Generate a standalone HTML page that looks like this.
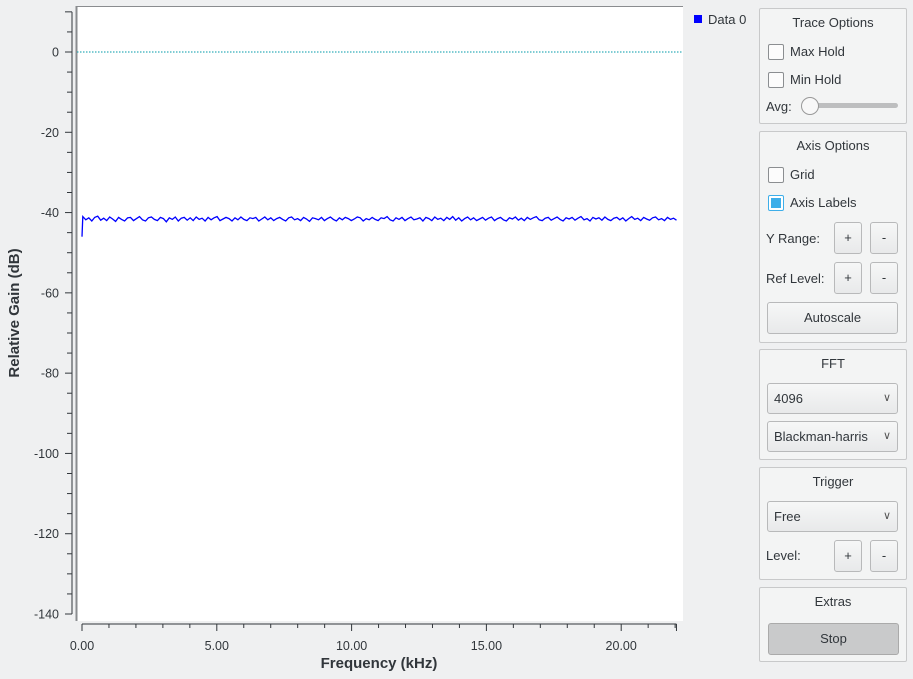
<!DOCTYPE html>
<html><head><meta charset="utf-8">
<style>
body{margin:0;width:913px;height:679px;background:#eff0f1;font-family:"Liberation Sans","DejaVu Sans",sans-serif;overflow:hidden;position:relative;color:#31363b}
.grp{position:absolute;left:759px;width:146px;border:1px solid #c8c9ca;border-radius:2px;background:#f3f4f4}
.t{position:absolute;width:100%;text-align:center;font-size:13px}
.lbl{position:absolute;font-size:13px}
.cb{position:absolute;width:14px;height:14px;border:1px solid #8b8e91;border-radius:2px;background:#fcfcfc}
.btn{position:absolute;border:1px solid #b8b9ba;border-radius:3px;background:linear-gradient(#f6f7f7,#e8e9ea);font-size:13px;text-align:center;box-sizing:border-box}
.cmb{position:absolute;left:7px;width:131px;height:31px;border:1px solid #b8b9ba;border-radius:3px;background:linear-gradient(#f6f7f7,#e8e9ea);font-size:13px;box-sizing:border-box;line-height:29px;padding-left:6px}
.cmb span{position:absolute;right:6px;top:0;font-size:11px;color:#555}
</style></head><body>
<svg id="chart" width="913" height="679" style="position:absolute;left:0;top:0">
 <rect x="76" y="6" width="607" height="615" fill="#fff"/>
 <line x1="76.5" y1="6" x2="76.5" y2="621" stroke="#8a8c8f" stroke-width="2"/>
 <line x1="76" y1="6.5" x2="683" y2="6.5" stroke="#8a8c8f" stroke-width="1"/>
 <g id="yaxis"></g>
 <g id="xaxis"></g>
 <g id="series"></g>
 <text x="19" y="313" transform="rotate(-90 19 313)" text-anchor="middle" font-size="15" font-weight="bold" fill="#31363b">Relative Gain (dB)</text>
 <text x="379" y="668" text-anchor="middle" font-size="15" font-weight="bold" fill="#31363b">Frequency (kHz)</text>
 <rect x="694" y="15" width="8" height="8" fill="#0000ff"/>
 <text x="708" y="24" font-size="13" fill="#31363b">Data 0</text>
</svg>

<div class="grp" style="top:8px;height:114px">
 <div class="t" style="top:6px">Trace Options</div>
 <div class="cb" style="left:8px;top:35px"></div><div class="lbl" style="left:30px;top:35px">Max Hold</div>
 <div class="cb" style="left:8px;top:63px"></div><div class="lbl" style="left:30px;top:63px">Min Hold</div>
 <div class="lbl" style="left:6px;top:90px">Avg:</div>
 <div style="position:absolute;left:44px;top:94px;width:94px;height:5px;border-radius:3px;background:#bdbebf"></div>
 <div style="position:absolute;left:41px;top:88px;width:16px;height:16px;border-radius:50%;border:1px solid #999;background:#f8f8f8"></div>
</div>

<div class="grp" style="top:131px;height:210px">
 <div class="t" style="top:6px">Axis Options</div>
 <div class="cb" style="left:8px;top:35px"></div><div class="lbl" style="left:30px;top:35px">Grid</div>
 <div class="cb" style="left:8px;top:63px;border-color:#3daee9;background:#fff"><div style="margin:2px;width:10px;height:10px;background:#3daee9"></div></div><div class="lbl" style="left:30px;top:63px">Axis Labels</div>
 <div class="lbl" style="left:6px;top:99px">Y Range:</div>
 <div class="btn" style="left:74px;top:90px;width:28px;height:32px;line-height:30px">+</div>
 <div class="btn" style="left:110px;top:90px;width:28px;height:32px;line-height:30px">-</div>
 <div class="lbl" style="left:6px;top:139px">Ref Level:</div>
 <div class="btn" style="left:74px;top:130px;width:28px;height:32px;line-height:30px">+</div>
 <div class="btn" style="left:110px;top:130px;width:28px;height:32px;line-height:30px">-</div>
 <div class="btn" style="left:7px;top:170px;width:131px;height:32px;line-height:30px">Autoscale</div>
</div>

<div class="grp" style="top:349px;height:109px">
 <div class="t" style="top:6px">FFT</div>
 <div class="cmb" style="top:33px">4096<span>&#8744;</span></div>
 <div class="cmb" style="top:71px">Blackman-harris<span>&#8744;</span></div>
</div>

<div class="grp" style="top:467px;height:111px">
 <div class="t" style="top:6px">Trigger</div>
 <div class="cmb" style="top:33px">Free<span>&#8744;</span></div>
 <div class="lbl" style="left:6px;top:80px">Level:</div>
 <div class="btn" style="left:74px;top:72px;width:28px;height:32px;line-height:30px">+</div>
 <div class="btn" style="left:110px;top:72px;width:28px;height:32px;line-height:30px">-</div>
</div>

<div class="grp" style="top:587px;height:73px">
 <div class="t" style="top:6px">Extras</div>
 <div class="btn" style="left:8px;top:35px;width:131px;height:32px;line-height:30px;background:#c9cacb;border-color:#aaa">Stop</div>
</div>

<script>
const yTicks = [0,-20,-40,-60,-80,-100,-120,-140];
const xTicks = [0,5,10,15,20];
const xTickLabels = ["0.00","5.00","10.00","15.00","20.00"];
const refLevel = [0];
const gainDb = [-46.0,-41.0,-41.8,-41.3,-42.1,-41.2,-40.9,-41.9,-41.4,-42.0,-41.1,-41.6,-42.2,-41.2,-41.7,-42.1,-41.3,-41.2,-42.0,-41.5,-41.0,
-41.8,-42.1,-41.3,-41.1,-41.7,-42.0,-41.2,-41.5,-42.3,-41.3,-41.7,-41.1,-42.1,-41.4,-41.2,-41.9,-41.3,-42.0,-41.1,-41.7,
-41.4,-42.1,-41.2,-41.8,-41.3,-41.0,-42.0,-41.6,-41.2,-41.5,-42.1,-41.3,-41.8,-41.1,-41.7,-42.0,-41.3,-41.5,-41.2,-42.1,
-41.6,-41.1,-41.8,-41.3,-42.0,-41.5,-41.2,-41.7,-42.1,-41.3,-41.1,-41.8,-41.5,-42.0,-41.2,-41.6,-42.2,-41.3,-41.5,-41.8,
-41.2,-42.0,-41.5,-41.1,-41.7,-42.1,-41.3,-41.8,-41.2,-41.5,-42.0,-41.6,-41.1,-41.3,-42.1,-41.5,-41.8,-41.2,-41.7,-42.0,
-41.3,-41.5,-41.0,-41.8,-42.1,-41.3,-41.7,-41.2,-42.0,-41.5,-41.1,-41.8,-41.6,-41.3,-42.1,-41.2,-41.5,-42.0,-41.1,-41.7,
-41.4,-42.0,-41.2,-41.7,-41.0,-41.9,-41.3,-42.1,-41.5,-41.1,-41.8,-41.3,-42.0,-41.6,-41.2,-41.9,-41.4,-41.1,-42.0,-41.5,
-41.2,-41.8,-42.1,-41.3,-41.6,-41.1,-41.9,-41.4,-42.0,-41.2,-41.7,-41.3,-41.0,-41.8,-42.0,-41.4,-41.2,-41.9,-41.5,-41.1,
-41.7,-42.1,-41.3,-41.6,-41.2,-41.9,-41.4,-41.0,-41.8,-41.5,-42.1,-41.2,-41.6,-41.3,-41.9,-41.1,-41.7,-42.0,-41.4,-41.2,
-41.8,-41.3,-42.1,-41.5,-41.0,-41.7,-41.4,-42.0,-41.2,-41.6,-41.9,-41.3,-41.1,-41.8,-41.5,-42.0,-41.2,-41.7,-41.4,-41.9];
const freqMax = 22.05;

const NS='http://www.w3.org/2000/svg';
function yPx(v){return 52 + (0 - v) * (562/140);}
function xPx(f){return 82 + f * (134.8/5);}
function mk(tag, attrs, parent){const e=document.createElementNS(NS,tag);for(const k in attrs)e.setAttribute(k,attrs[k]);parent.appendChild(e);return e;}

const ya=document.getElementById('yaxis');
mk('line',{x1:72,y1:yPx(10),x2:72,y2:yPx(-140),stroke:'#31363b','stroke-width':1},ya);
for(let v=10;v>=-140;v-=5){
  const major = v%20===0 || v===10;
  const t=mk('line',{x1:major?65:67,y1:yPx(v),x2:72,y2:yPx(v),stroke:'#31363b','stroke-width':1},ya);
  
  
}
yTicks.forEach(v=>{
  const t=mk('text',{x:59,y:yPx(v)+4.5,'text-anchor':'end','font-size':12.5,fill:'#31363b'},ya);
  t.textContent=String(v);
  
  
});

const xa=document.getElementById('xaxis');
mk('line',{x1:xPx(0),y1:624,x2:xPx(freqMax),y2:624,stroke:'#31363b','stroke-width':1},xa);
for(let f=0;f<=freqMax;f+=1){
  const major=f%5===0;
  const t=mk('line',{x1:xPx(f),y1:624,x2:xPx(f),y2:major?631:628,stroke:'#31363b','stroke-width':1},xa);
  
  
}
mk('line',{x1:xPx(freqMax),y1:624,x2:xPx(freqMax),y2:631,stroke:'#31363b'},xa);
xTicks.forEach((f,i)=>{
  const t=mk('text',{x:xPx(f),y:650,'text-anchor':'middle','font-size':12.5,fill:'#31363b'},xa);
  t.textContent=xTickLabels[i];
  
  
});

const sg=document.getElementById('series');
refLevel.forEach(v=>{
  const l=mk('line',{x1:77,y1:yPx(v),x2:683,y2:yPx(v),stroke:'#009aa8','stroke-width':1,'stroke-dasharray':'1.5 1.5'},sg);
  
  
});
const n=gainDb.length;
const pts=gainDb.map((v,i)=>{
  const f = i===0 ? 0 : 0.03 + (i-1)*(freqMax-0.03)/(n-2);
  return xPx(f).toFixed(1)+','+yPx(v).toFixed(1);
}).join(' ');
const pl=mk('polyline',{points:pts,fill:'none',stroke:'#0000ff','stroke-width':1.3},sg);


</script>
</body></html>
